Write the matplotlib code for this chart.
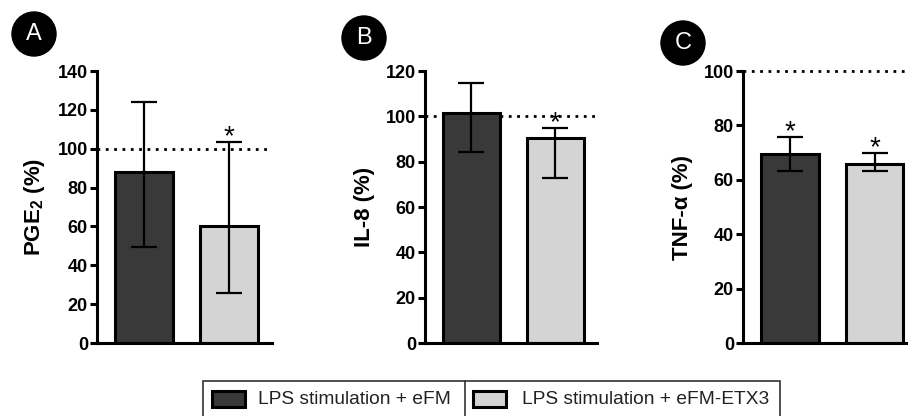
import matplotlib
matplotlib.use('Agg')
import matplotlib.pyplot as plt
from matplotlib.patches import Rectangle, Ellipse

plt.rcParams['font.family'] = ['Liberation Sans', 'DejaVu Sans']
plt.rcParams['mathtext.fontset'] = 'custom'
plt.rcParams['mathtext.rm'] = 'Liberation Sans'
plt.rcParams['mathtext.bf'] = 'Liberation Sans:bold'

# Data (% of LPS-only control)
groups = ['LPS stimulation + eFM', 'LPS stimulation + eFM-ETX3']
panel_letters = ['A', 'B', 'C']
ylabels = [r'PGE$_\mathbf{2}$ (%)', 'IL-8 (%)', 'TNF-α (%)']

pge2_mean = [88, 60]
pge2_low = [49.5, 25.6]
pge2_high = [124, 103.3]
pge2_sig = [False, True]

il8_mean = [101.3, 90.3]
il8_low = [84.4, 72.6]
il8_high = [114.6, 94.7]
il8_sig = [False, True]

tnf_mean = [69.5, 65.8]
tnf_low = [63.2, 63.3]
tnf_high = [75.8, 69.7]
tnf_sig = [True, True]

ymaxes = [140, 120, 100]
reference_level = 100

bar_colors = ['#393939', '#d4d4d4']

W, H = 908, 416


def fx(px):
    return px / W


def fy(py):
    return 1 - py / H


fig = plt.figure(figsize=(W / 100, H / 100), dpi=100)

# axes rectangles in pixels: left, right
axes_px = [(97, 272), (425, 597), (743, 917)]
top_px, bottom_px = 71, 343
circle_px = [(34, 34), (364, 38), (683, 43)]

panels = [
    (pge2_mean, pge2_low, pge2_high, pge2_sig),
    (il8_mean, il8_low, il8_high, il8_sig),
    (tnf_mean, tnf_low, tnf_high, tnf_sig),
]

for i, (means, lows, highs, sigs) in enumerate(panels):
    left, right = axes_px[i]
    ax = fig.add_axes([fx(left), fy(bottom_px), (right - left) / W,
                       (bottom_px - top_px) / H])
    x = [0, 1]
    yerr = [[m - lo for m, lo in zip(means, lows)],
            [hi - m for m, hi in zip(means, highs)]]
    ax.axhline(reference_level, color='black', linestyle=(0, (1, 2)),
               linewidth=2, zorder=1, clip_on=False)
    ax.bar(x, means, width=0.68, color=bar_colors, edgecolor='black',
           linewidth=2.2, zorder=2)
    ax.errorbar(x, means, yerr=yerr, fmt='none', ecolor='black',
                elinewidth=1.6, capsize=9.7, capthick=1.6, zorder=3)
    for xi, hi, s in zip(x, highs, sigs):
        if s:
            ax.annotate('*', xy=(xi, hi), xytext=(0, -1.5),
                        textcoords='offset points', ha='center',
                        va='baseline', fontsize=20, zorder=4)

    ax.set_xlim(-0.55, 1.5)
    ax.set_ylim(0, ymaxes[i])
    ax.set_yticks(range(0, ymaxes[i] + 1, 20))
    ax.set_xticks([])
    for side in ['top', 'right']:
        ax.spines[side].set_visible(False)
    for side in ['left', 'bottom']:
        ax.spines[side].set_linewidth(2.2)
    ax.tick_params(axis='y', length=5, width=2.2, pad=1.5, labelsize=13)
    for lab in ax.get_yticklabels():
        lab.set_fontweight('bold')
    ax.set_ylabel(ylabels[i], fontsize=16, fontweight='bold')
    ax.yaxis.set_label_coords(-50 / (right - left), 0.5)

    cx, cy = circle_px[i]
    fig.add_artist(Ellipse((fx(cx), fy(cy)), 44 / W, 44 / H,
                           transform=fig.transFigure, color='black'))
    fig.text(fx(cx), fy(cy), panel_letters[i], color='white', fontsize=17,
             ha='center', va='center')

# legend drawn as a boxed, two-cell table below the panels
box_left, box_mid, box_right = 203, 465, 780
box_top = 381
fig.add_artist(Rectangle((fx(box_left), fy(H + 10)), (box_right - box_left) / W,
                         (H + 10 - box_top) / H, transform=fig.transFigure,
                         facecolor='none', edgecolor='#333333', linewidth=1.2,
                         clip_on=False))
fig.add_artist(plt.Line2D([fx(box_mid), fx(box_mid)], [fy(box_top), 0],
                          transform=fig.transFigure, color='#333333',
                          linewidth=1.2))
swatch_x = [212, 473]
text_x = [258, 522]
for j, name in enumerate(groups):
    fig.add_artist(Rectangle((fx(swatch_x[j]), fy(407)), 33 / W, 16 / H,
                             transform=fig.transFigure,
                             facecolor=bar_colors[j], edgecolor='black',
                             linewidth=2.2))
    fig.text(fx(text_x[j]), fy(399), name, fontsize=13.8, ha='left',
             va='center', color='#222222')

fig.savefig('out.png', dpi=100)
